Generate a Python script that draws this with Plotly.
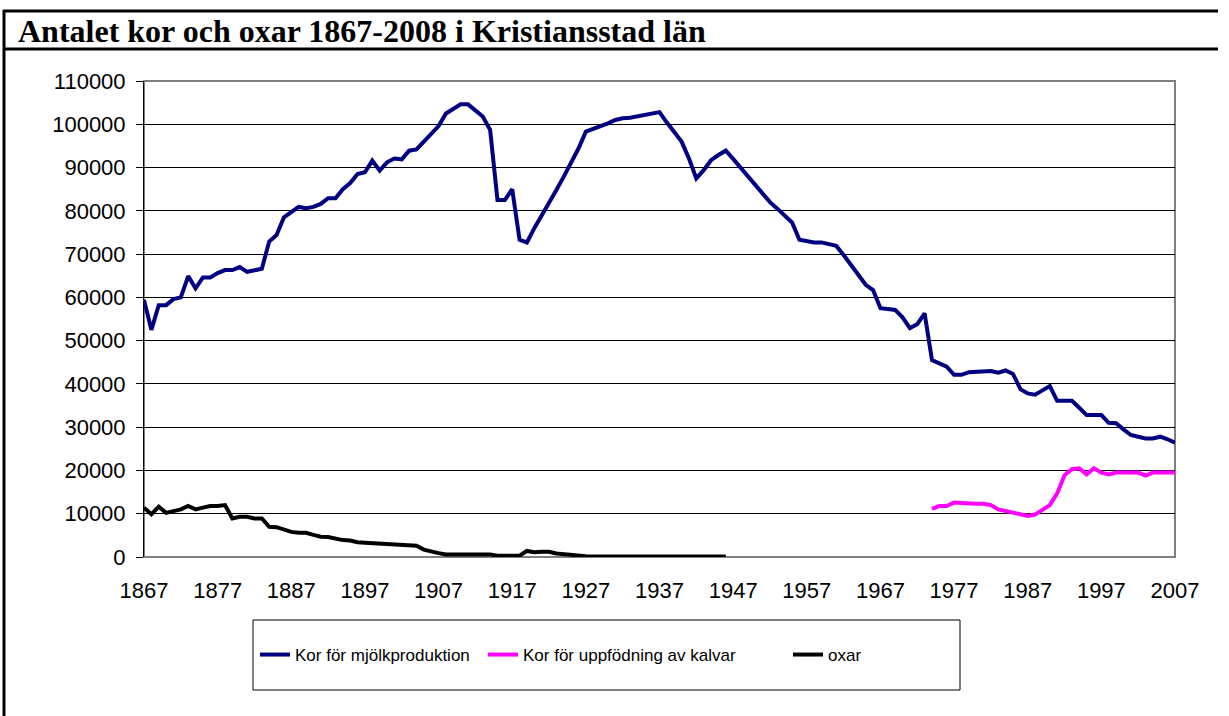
import plotly.graph_objects as go

# ---------------- data ----------------
years_mjolk = list(range(1867, 2008))
kor_mjolk = [
    59400, 52500, 58200, 58200, 59600, 60000, 64900, 62100, 64600, 64600,   # 1867-1876
    65600, 66300, 66300, 67000, 65900, 66300, 66600, 72900, 74400, 78500,   # 1877-1886
    79600, 80900, 80600, 80900, 81600, 82900, 82900, 85000, 86400, 88500,   # 1887-1896
    88900, 91600, 89300, 91200, 92100, 91900, 93900, 94200, 96000, 97900,   # 1897-1906
    99600, 102500, 103500, 104600, 104600, 103300, 101800, 98700, 82500, 82500,  # 1907-1916
    85000, 73300, 72700, 76000, 78800, 81700, 84800, 87900, 91000, 94400,   # 1917-1926
    98300, 98900, 99400, 100200, 101000, 101400, 101500, 101800, 102100, 102400,  # 1927-1936
    102800, 100400, 98100, 96000, 92100, 87500, 89400, 91700, 92900, 93900,  # 1937-1946
    92000, 90000, 88000, 86000, 84000, 82000, 80500, 79000, 77300, 73300,   # 1947-1956
    72900, 72700, 72700, 72300, 71900, 69800, 67500, 65200, 62900, 61700,   # 1957-1966
    57500, 57300, 57100, 55400, 52900, 53800, 56300, 45500, 44800, 44000,   # 1967-1976
    42100, 42100, 42700, 42800, 42800, 43000, 42600, 43100, 42300, 38800,   # 1977-1986
    37800, 37500, 38500, 39500, 36100, 36100, 36100, 34500, 32800, 32800,   # 1987-1996
    32800, 31000, 30900, 29500, 28200, 27800, 27400, 27400, 27800, 27200,   # 1997-2006
    26400,                                                                    # 2007
]

years_kalvar = list(range(1974, 2008))
kor_kalvar = [
    11100, 11800, 11800, 12600, 12500, 12300, 12300, 12300, 12000, 11000,   # 1974-1983
    10600, 10300, 9800, 9500, 9800, 10800, 12000, 14700, 18900, 20300,     # 1984-1993
    20500, 19100, 20500, 19500, 19100, 19500, 19500, 19500, 19500, 18800,   # 1994-2003
    19500, 19500, 19500, 19500,                                              # 2004-2007
]

years_oxar = list(range(1867, 1928)) + [1932, 1937, 1946]
oxar = [
    11400, 9900, 11600, 10200, 10600, 11000, 11800, 11000, 11400, 11800,    # 1867-1876
    11800, 12000, 8900, 9300, 9300, 8900, 8900, 7000, 6900, 6400,           # 1877-1886
    5800, 5600, 5600, 5100, 4700, 4600, 4200, 3900, 3800, 3400,             # 1887-1896
    3300, 3200, 3000, 2900, 2700, 2600, 2600, 2600, 1700, 1200,             # 1897-1906
    900, 600, 600, 600, 600, 600, 600, 600, 300, 300,                       # 1907-1916
    300, 300, 1400, 1100, 1200, 1200, 800, 700, 500, 400,                   # 1917-1926
    200,                                                                     # 1927
    100, 100, 100,                                                           # 1932, 1937, 1946
]

series_names = ["Kor för mjölkproduktion", "Kor för uppfödning av kalvar", "oxar"]
tick_years = list(range(1867, 2008, 10))
y_ticks = list(range(0, 110001, 10000))
title_text = "Antalet kor och oxar 1867-2008 i Kristiansstad län"

# ---------------- layout geometry (pixels) ----------------
W, H = 1229, 716
L, R, T, B = 144, 1175, 81, 557


def px_x(p):
    return (p - L) / (R - L)


def px_y(p):
    return (B - p) / (B - T)


fig = go.Figure()
fig.add_trace(go.Scatter(x=years_mjolk, y=kor_mjolk, mode="lines", name=series_names[0],
                         line=dict(color="#000080", width=4), legend="legend"))
fig.add_trace(go.Scatter(x=years_kalvar, y=kor_kalvar, mode="lines", name=series_names[1],
                         line=dict(color="#FF00FF", width=4), legend="legend2"))
fig.add_trace(go.Scatter(x=years_oxar, y=oxar, mode="lines", name=series_names[2],
                         line=dict(color="#000000", width=4), legend="legend3"))

frame = dict(color="black", width=3)
shapes = [
    # outer chart frame: left edge, top edge, title separator
    dict(type="line", xref="paper", yref="paper", x0=px_x(4), x1=px_x(4), y0=px_y(740), y1=px_y(10),
         line=frame),
    dict(type="line", xref="paper", yref="paper", x0=px_x(3), x1=px_x(1218), y0=px_y(11), y1=px_y(11),
         line=frame),
    dict(type="line", xref="paper", yref="paper", x0=px_x(3), x1=px_x(1218), y0=px_y(49), y1=px_y(49),
         line=frame),
    # plot area border (gray)
    dict(type="rect", xref="paper", yref="paper", x0=0, x1=1, y0=0, y1=1,
         line=dict(color="#808080", width=2), layer="below"),
    # legend box
    dict(type="rect", xref="paper", yref="paper", x0=px_x(253), x1=px_x(960), y0=px_y(690), y1=px_y(620),
         line=dict(color="black", width=1)),
]


def leg(xpix):
    return dict(orientation="h", x=px_x(xpix), y=px_y(655), xanchor="left", yanchor="middle",
                font=dict(size=17, family="Liberation Sans, Arial"), bgcolor="rgba(0,0,0,0)",
                itemwidth=30)


fig.update_layout(
    width=W, height=H,
    margin=dict(l=L, r=W - R, t=T, b=H - B, pad=0),
    paper_bgcolor="white", plot_bgcolor="white",
    font=dict(family="Liberation Sans, Arial", size=22, color="black"),
    showlegend=True,
    legend=leg(255), legend2=leg(483), legend3=leg(788),
    shapes=shapes,
    annotations=[dict(text="<b>" + title_text + "</b>", xref="paper", yref="paper",
                      x=px_x(16), y=px_y(31), xanchor="left", yanchor="middle", showarrow=False,
                      font=dict(family="Liberation Serif, Times New Roman", size=32, color="black"))],
)

fig.update_xaxes(range=[1867, 2007], tickmode="array", tickvals=tick_years,
                 ticktext=[str(t) for t in tick_years], showgrid=False, zeroline=False,
                 showline=False, ticks="", ticklabelstandoff=18,
                 tickfont=dict(size=22))
fig.update_yaxes(range=[0, 110000], tickmode="array", tickvals=y_ticks,
                 ticktext=[str(t) for t in y_ticks], showgrid=True, gridcolor="black", gridwidth=1,
                 zeroline=False, showline=True, linecolor="black", linewidth=1,
                 ticks="outside", ticklen=7, tickcolor="black", ticklabelstandoff=6,
                 tickfont=dict(size=22))

fig.write_html("out.html", config={"displayModeBar": False},
               post_script="document.body.style.margin='0px';")
